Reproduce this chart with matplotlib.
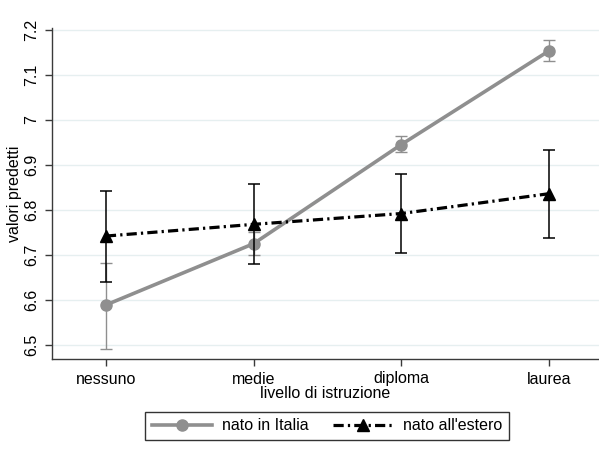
import matplotlib
matplotlib.use("Agg")
import matplotlib.pyplot as plt

categories = ["nessuno", "medie", "diploma", "laurea"]
italia = [6.589, 6.725, 6.945, 7.153]
italia_lo = [6.491, 6.700, 6.928, 7.130]
italia_hi = [6.682, 6.750, 6.964, 7.178]
estero = [6.742, 6.768, 6.792, 6.836]
estero_lo = [6.640, 6.679, 6.704, 6.738]
estero_hi = [6.843, 6.857, 6.879, 6.932]
yticks = [6.5, 6.6, 6.7, 6.8, 6.9, 7.0, 7.1, 7.2]
yticklabels = ["6.5", "6.6", "6.7", "6.8", "6.9", "7", "7.1", "7.2"]

plt.rcParams['font.family'] = ['Liberation Sans', 'DejaVu Sans']

fig = plt.figure(figsize=(5.99, 4.55), dpi=100)
ax = fig.add_axes([52/599, (455-359)/455, (599-52)/599, (359-28)/455])

x = list(range(1, len(categories) + 1))

grey = "#8f8f8f"
ax.errorbar(x, italia,
            yerr=[[m - l for m, l in zip(italia, italia_lo)],
                  [h - m for m, h in zip(italia, italia_hi)]],
            fmt="none", ecolor=grey, elinewidth=1.0, capsize=4, capthick=1.0, zorder=2)
ax.plot(x, italia, color=grey, lw=2.6, marker="o", ms=8, mfc=grey, mec=grey,
        label="nato in Italia", zorder=3)

ax.errorbar(x, estero,
            yerr=[[m - l for m, l in zip(estero, estero_lo)],
                  [h - m for m, h in zip(estero, estero_hi)]],
            fmt="none", ecolor="black", elinewidth=1.1, capsize=4, capthick=1.1, zorder=4)
ax.plot(x, estero, color="black", lw=2.3, marker="^", ms=8, mfc="black", mec="black",
        dashes=(3.2, 1.3, 0.7, 1.3), label="nato all'estero", zorder=5)

ax.set_xlim(0.635, 4.34)
ax.set_ylim(6.469, 7.204)
ax.set_xticks(x)
ax.set_xticklabels(categories, fontsize=11.5)
ax.set_yticks(yticks)
ax.set_yticklabels(yticklabels, fontsize=11.5, rotation=90, va="center")
ax.grid(axis="y", color="#e6eff0", lw=1.0, zorder=0)
ax.set_axisbelow(True)

for s in ["top", "right"]:
    ax.spines[s].set_visible(False)
for s in ["left", "bottom"]:
    ax.spines[s].set_color("#3a3a3a")
    ax.spines[s].set_linewidth(1.0)
ax.tick_params(axis="both", direction="out", length=5, width=1.0, color="#3a3a3a", pad=4)

ax.set_xlabel("livello di istruzione", fontsize=11.5, labelpad=0)
ax.set_ylabel("valori predetti", fontsize=11.5, labelpad=2)

leg = fig.legend(loc="center", bbox_to_anchor=(327/599, 1 - 426/455), ncol=2,
                 fontsize=11.5, frameon=True, fancybox=False, edgecolor="black",
                 handlelength=3.8, columnspacing=1.5, borderpad=0.4, handletextpad=0.6)
leg.get_frame().set_linewidth(1.0)

fig.savefig("out.png", dpi=100)
